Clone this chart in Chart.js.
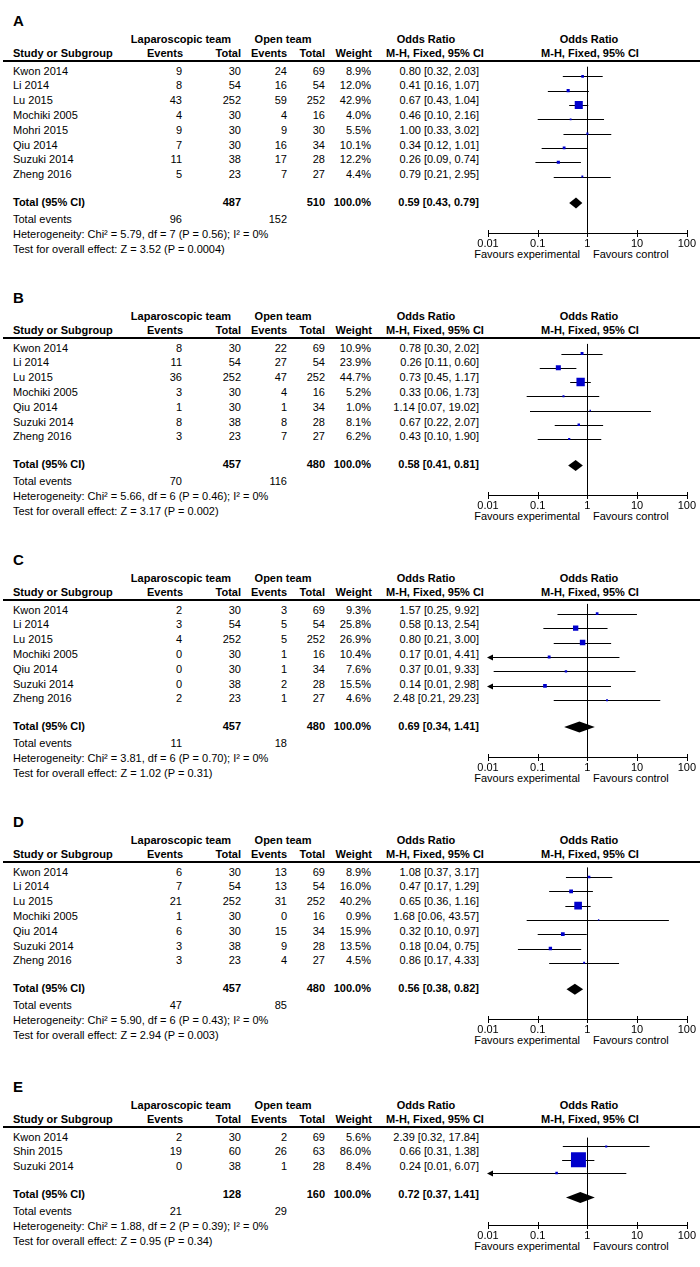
<!DOCTYPE html>
<html>
<head>
<meta charset="utf-8">
<script src="https://cdn.jsdelivr.net/npm/chart.js@4.4.1/dist/chart.umd.min.js"></script>
<style>
    body { margin: 0; background: #fff; }
    #page { position: relative; width: 700px; height: 1267px; overflow: hidden;
            font-family: Arial, "Liberation Sans", sans-serif; font-size: 11px; color: #000; }
    .t { position: absolute; white-space: nowrap; line-height: 13px; height: 13px; }
    .b { font-weight: bold; }
    .rule { position: absolute; left: 3px; width: 697px; height: 2px; background: #000; }
    .plot { position: absolute; left: 470px; width: 230px; }
</style>
</head>
<body>
<div id="page"></div>
<script>
// data -- panel A
const studiesA = ['Kwon 2014', 'Li 2014', 'Lu 2015', 'Mochiki 2005', 'Mohri 2015', 'Qiu 2014', 'Suzuki 2014', 'Zheng 2016']
const lapEventsA = [9, 8, 43, 4, 9, 7, 11, 5]
const lapTotalA = [30, 54, 252, 30, 30, 30, 38, 23]
const openEventsA = [24, 16, 59, 4, 9, 16, 17, 7]
const openTotalA = [69, 54, 252, 16, 30, 34, 28, 27]
const weightA = [8.9, 12.0, 42.9, 4.0, 5.5, 10.1, 12.2, 4.4]
const oddsA = [0.80, 0.41, 0.67, 0.46, 1.00, 0.34, 0.26, 0.79]
const lowerA = [0.32, 0.16, 0.43, 0.10, 0.33, 0.12, 0.09, 0.21]
const upperA = [2.03, 1.07, 1.04, 2.16, 3.02, 1.01, 0.74, 2.95]
const totalsA = [487, 510, 100.0]
const eventsA = [96, 152]
const pooledA = [0.59, 0.43, 0.79]
const hetA = 'Heterogeneity: Chi² = 5.79, df = 7 (P = 0.56); I² = 0%'
const testA = 'Test for overall effect: Z = 3.52 (P = 0.0004)'

// panel B
const studiesB = ['Kwon 2014', 'Li 2014', 'Lu 2015', 'Mochiki 2005', 'Qiu 2014', 'Suzuki 2014', 'Zheng 2016']
const lapEventsB = [8, 11, 36, 3, 1, 8, 3]
const lapTotalB = [30, 54, 252, 30, 30, 38, 23]
const openEventsB = [22, 27, 47, 4, 1, 8, 7]
const openTotalB = [69, 54, 252, 16, 34, 28, 27]
const weightB = [10.9, 23.9, 44.7, 5.2, 1.0, 8.1, 6.2]
const oddsB = [0.78, 0.26, 0.73, 0.33, 1.14, 0.67, 0.43]
const lowerB = [0.30, 0.11, 0.45, 0.06, 0.07, 0.22, 0.10]
const upperB = [2.02, 0.60, 1.17, 1.73, 19.02, 2.07, 1.90]
const totalsB = [457, 480, 100.0]
const eventsB = [70, 116]
const pooledB = [0.58, 0.41, 0.81]
const hetB = 'Heterogeneity: Chi² = 5.66, df = 6 (P = 0.46); I² = 0%'
const testB = 'Test for overall effect: Z = 3.17 (P = 0.002)'

// panel C
const studiesC = ['Kwon 2014', 'Li 2014', 'Lu 2015', 'Mochiki 2005', 'Qiu 2014', 'Suzuki 2014', 'Zheng 2016']
const lapEventsC = [2, 3, 4, 0, 0, 0, 2]
const lapTotalC = [30, 54, 252, 30, 30, 38, 23]
const openEventsC = [3, 5, 5, 1, 1, 2, 1]
const openTotalC = [69, 54, 252, 16, 34, 28, 27]
const weightC = [9.3, 25.8, 26.9, 10.4, 7.6, 15.5, 4.6]
const oddsC = [1.57, 0.58, 0.80, 0.17, 0.37, 0.14, 2.48]
const lowerC = [0.25, 0.13, 0.21, 0.007, 0.013, 0.006, 0.21]
const upperC = [9.92, 2.54, 3.00, 4.41, 9.33, 2.98, 29.23]
const totalsC = [457, 480, 100.0]
const eventsC = [11, 18]
const pooledC = [0.69, 0.34, 1.41]
const hetC = 'Heterogeneity: Chi² = 3.81, df = 6 (P = 0.70); I² = 0%'
const testC = 'Test for overall effect: Z = 1.02 (P = 0.31)'

// panel D
const studiesD = ['Kwon 2014', 'Li 2014', 'Lu 2015', 'Mochiki 2005', 'Qiu 2014', 'Suzuki 2014', 'Zheng 2016']
const lapEventsD = [6, 7, 21, 1, 6, 3, 3]
const lapTotalD = [30, 54, 252, 30, 30, 38, 23]
const openEventsD = [13, 13, 31, 0, 15, 9, 4]
const openTotalD = [69, 54, 252, 16, 34, 28, 27]
const weightD = [8.9, 16.0, 40.2, 0.9, 15.9, 13.5, 4.5]
const oddsD = [1.08, 0.47, 0.65, 1.68, 0.32, 0.18, 0.86]
const lowerD = [0.37, 0.17, 0.36, 0.06, 0.10, 0.04, 0.17]
const upperD = [3.17, 1.29, 1.16, 43.57, 0.97, 0.75, 4.33]
const totalsD = [457, 480, 100.0]
const eventsD = [47, 85]
const pooledD = [0.56, 0.38, 0.82]
const hetD = 'Heterogeneity: Chi² = 5.90, df = 6 (P = 0.43); I² = 0%'
const testD = 'Test for overall effect: Z = 2.94 (P = 0.003)'

// panel E
const studiesE = ['Kwon 2014', 'Shin 2015', 'Suzuki 2014']
const lapEventsE = [2, 19, 0]
const lapTotalE = [30, 60, 38]
const openEventsE = [2, 26, 1]
const openTotalE = [69, 63, 28]
const weightE = [5.6, 86.0, 8.4]
const oddsE = [2.39, 0.66, 0.24]
const lowerE = [0.32, 0.31, 0.007]
const upperE = [17.84, 1.38, 6.07]
const totalsE = [128, 160, 100.0]
const eventsE = [21, 29]
const pooledE = [0.72, 0.37, 1.41]
const hetE = 'Heterogeneity: Chi² = 1.88, df = 2 (P = 0.39); I² = 0%'
const testE = 'Test for overall effect: Z = 0.95 (P = 0.34)'

const tickValues = [0.01, 0.1, 1, 10, 100]

const panels = [
    { letter: 'A', top: 61, studies: studiesA, lapEv: lapEventsA, lapTot: lapTotalA, opEv: openEventsA, opTot: openTotalA,
      weight: weightA, or: oddsA, lo: lowerA, hi: upperA, totals: totalsA, events: eventsA, pooled: pooledA, het: hetA, test: testA },
    { letter: 'B', top: 338, studies: studiesB, lapEv: lapEventsB, lapTot: lapTotalB, opEv: openEventsB, opTot: openTotalB,
      weight: weightB, or: oddsB, lo: lowerB, hi: upperB, totals: totalsB, events: eventsB, pooled: pooledB, het: hetB, test: testB },
    { letter: 'C', top: 600, studies: studiesC, lapEv: lapEventsC, lapTot: lapTotalC, opEv: openEventsC, opTot: openTotalC,
      weight: weightC, or: oddsC, lo: lowerC, hi: upperC, totals: totalsC, events: eventsC, pooled: pooledC, het: hetC, test: testC },
    { letter: 'D', top: 862, studies: studiesD, lapEv: lapEventsD, lapTot: lapTotalD, opEv: openEventsD, opTot: openTotalD,
      weight: weightD, or: oddsD, lo: lowerD, hi: upperD, totals: totalsD, events: eventsD, pooled: pooledD, het: hetD, test: testD },
    { letter: 'E', top: 1127, studies: studiesE, lapEv: lapEventsE, lapTot: lapTotalE, opEv: openEventsE, opTot: openTotalE,
      weight: weightE, or: oddsE, lo: lowerE, hi: upperE, totals: totalsE, events: eventsE, pooled: pooledE, het: hetE, test: testE },
]

// layout
const ROW = 14.8
const FIRST = 10
const TOTAL_GAP = 27.5
const AXIS_GAP = 30.5
const COL = { study: 13, lapEv: 182, lapTot: 241, opEv: 287, opTot: 325, weight: 371, ci: 479 }
const BOX = '#0000cc'

const page = document.getElementById('page')

function txt(x, y, s, align, bold, size) {
    const el = document.createElement('div')
    el.className = 't' + (bold ? ' b' : '')
    el.textContent = s
    if (size) {
        el.style.fontSize = size + 'px'
        el.style.lineHeight = (size + 2) + 'px'
        el.style.height = (size + 2) + 'px'
        el.style.top = (y - (size + 2) / 2) + 'px'
    } else {
        el.style.top = (y - 6.5) + 'px'
    }
    if (align === 'right') el.style.right = (700 - x) + 'px'
    else if (align === 'center') { el.style.left = x + 'px'; el.style.transform = 'translateX(-50%)' }
    else el.style.left = x + 'px'
    page.appendChild(el)
}

const fmtCI = (o, l, h) => `${o.toFixed(2)} [${l.toFixed(2)}, ${h.toFixed(2)}]`

const forestPlugin = {
    id: 'forest',
    beforeDatasetsDraw(chart) {
        const { ctx, chartArea, scales: { x, y } } = chart
        const p = chart.options.plugins.forest.panel
        ctx.save()
        ctx.strokeStyle = '#000'
        ctx.fillStyle = '#000'
        ctx.lineWidth = 1
        // line of no effect
        const x1 = Math.round(x.getPixelForValue(1)) + 0.5
        ctx.beginPath()
        ctx.moveTo(x1, chartArea.top)
        ctx.lineTo(x1, chartArea.bottom)
        ctx.stroke()
        // confidence intervals
        p.or.forEach((v, i) => {
            const yy = Math.round(y.getPixelForValue(i)) + 0.5
            const xl = x.getPixelForValue(Math.max(p.lo[i], x.min))
            const xh = x.getPixelForValue(Math.min(p.hi[i], x.max))
            ctx.beginPath()
            ctx.moveTo(xl, yy)
            ctx.lineTo(xh, yy)
            ctx.stroke()
            if (p.lo[i] < x.min) {
                ctx.beginPath()
                ctx.moveTo(xl - 1, yy)
                ctx.lineTo(xl + 5, yy - 3)
                ctx.lineTo(xl + 5, yy + 3)
                ctx.closePath()
                ctx.fill()
            }
        })
        ctx.restore()
    },
    afterDatasetsDraw(chart) {
        const { ctx, chartArea, scales: { x, y } } = chart
        const p = chart.options.plugins.forest.panel
        ctx.save()
        // pooled diamond
        const yd = y.getPixelForValue(p.totalRow)
        ctx.fillStyle = '#000'
        ctx.beginPath()
        ctx.moveTo(x.getPixelForValue(p.pooled[1]), yd)
        ctx.lineTo(x.getPixelForValue(p.pooled[0]), yd - 5.5)
        ctx.lineTo(x.getPixelForValue(p.pooled[2]), yd)
        ctx.lineTo(x.getPixelForValue(p.pooled[0]), yd + 5.5)
        ctx.closePath()
        ctx.fill()
        // tick marks crossing the axis
        ctx.strokeStyle = '#000'
        ctx.lineWidth = 1
        x.ticks.forEach(t => {
            const px = Math.round(x.getPixelForValue(t.value)) + 0.5
            ctx.beginPath()
            ctx.moveTo(px, chartArea.bottom - 3)
            ctx.lineTo(px, chartArea.bottom + 4)
            ctx.stroke()
        })
        ctx.restore()
    },
}

panels.forEach(p => {
    const H = p.top
    const n = p.studies.length
    const rowY = i => H + FIRST + i * ROW
    const totalY = rowY(n - 1) + TOTAL_GAP
    const axisY = totalY + AXIS_GAP

    // headers
    txt(COL.study, H - 41, p.letter, 'left', true, 15)
    txt(181, H - 22, 'Laparoscopic team', 'center', true)
    txt(283, H - 22, 'Open team', 'center', true)
    txt(426, H - 22, 'Odds Ratio', 'center', true)
    txt(589, H - 22, 'Odds Ratio', 'center', true)
    txt(COL.study, H - 7.5, 'Study or Subgroup', 'left', true)
    txt(COL.lapEv + 1, H - 7.5, 'Events', 'right', true)
    txt(COL.lapTot, H - 7.5, 'Total', 'right', true)
    txt(COL.opEv, H - 7.5, 'Events', 'right', true)
    txt(COL.opTot, H - 7.5, 'Total', 'right', true)
    txt(COL.weight + 1, H - 7.5, 'Weight', 'right', true)
    txt(435, H - 7.5, 'M-H, Fixed, 95% CI', 'center', true)
    txt(590, H - 7.5, 'M-H, Fixed, 95% CI', 'center', true)
    const rule = document.createElement('div')
    rule.className = 'rule'
    rule.style.top = (H - 1) + 'px'
    page.appendChild(rule)

    // study rows
    p.studies.forEach((s, i) => {
        const y = rowY(i)
        txt(COL.study, y, s, 'left')
        txt(COL.lapEv, y, String(p.lapEv[i]), 'right')
        txt(COL.lapTot, y, String(p.lapTot[i]), 'right')
        txt(COL.opEv, y, String(p.opEv[i]), 'right')
        txt(COL.opTot, y, String(p.opTot[i]), 'right')
        txt(COL.weight, y, p.weight[i].toFixed(1) + '%', 'right')
        txt(COL.ci, y, fmtCI(p.or[i], p.lo[i], p.hi[i]), 'right')
    })

    // totals and summary
    txt(COL.study, totalY, 'Total (95% CI)', 'left', true)
    txt(COL.lapTot, totalY, String(p.totals[0]), 'right', true)
    txt(COL.opTot, totalY, String(p.totals[1]), 'right', true)
    txt(COL.weight, totalY, p.totals[2].toFixed(1) + '%', 'right', true)
    txt(COL.ci, totalY, fmtCI(p.pooled[0], p.pooled[1], p.pooled[2]), 'right', true)
    txt(COL.study, totalY + 17, 'Total events', 'left')
    txt(COL.lapEv, totalY + 17, String(p.events[0]), 'right')
    txt(COL.opEv, totalY + 17, String(p.events[1]), 'right')
    txt(COL.study, totalY + 32, p.het, 'left')
    txt(COL.study, totalY + 47, p.test, 'left')
    txt(580, axisY + 22, 'Favours experimental', 'right')
    txt(593, axisY + 22, 'Favours control', 'left')

    // forest plot
    const plotH = Math.round(axisY - H)
    const wrap = document.createElement('div')
    wrap.className = 'plot'
    wrap.style.top = H + 'px'
    wrap.style.height = (plotH + 30) + 'px'
    const canvas = document.createElement('canvas')
    canvas.width = 230
    canvas.height = plotH + 30
    wrap.appendChild(canvas)
    page.appendChild(wrap)

    p.totalRow = (n - 1) + TOTAL_GAP / ROW
    const axisRow = (plotH - FIRST) / ROW

    new Chart(canvas.getContext('2d'), {
        type: 'scatter',
        data: {
            datasets: [
                {
                    data: p.or.map((v, i) => ({ x: v, y: i })),
                    pointStyle: 'rect',
                    pointRadius: p.weight.map(w => (1.2 + 0.16 * w) / Math.SQRT2),
                    pointHoverRadius: p.weight.map(w => (1.2 + 0.16 * w) / Math.SQRT2),
                    backgroundColor: BOX,
                    borderWidth: 0,
                },
            ],
        },
        options: {
            responsive: false,
            animation: false,
            events: [],
            layout: { padding: { left: 18, right: 12, top: 0, bottom: 0 } },
            scales: {
                x: {
                    type: 'logarithmic',
                    min: 0.01,
                    max: 100,
                    afterBuildTicks: s => { s.ticks = tickValues.map(v => ({ value: v })) },
                    afterFit: s => { s.height = 30 },
                    grid: { display: false, drawTicks: false },
                    border: { display: true, color: '#000', width: 1 },
                    ticks: {
                        padding: 4,
                        color: '#000',
                        maxRotation: 0,
                        autoSkip: false,
                        font: { family: 'Arial, "Liberation Sans", sans-serif', size: 11 },
                        callback: v => String(v),
                    },
                },
                y: {
                    type: 'linear',
                    display: false,
                    reverse: true,
                    min: -FIRST / ROW,
                    max: axisRow,
                },
            },
            plugins: {
                legend: { display: false },
                tooltip: { enabled: false },
                forest: { panel: p },
            },
        },
        plugins: [forestPlugin],
    })
})
</script>
</body>
</html>
